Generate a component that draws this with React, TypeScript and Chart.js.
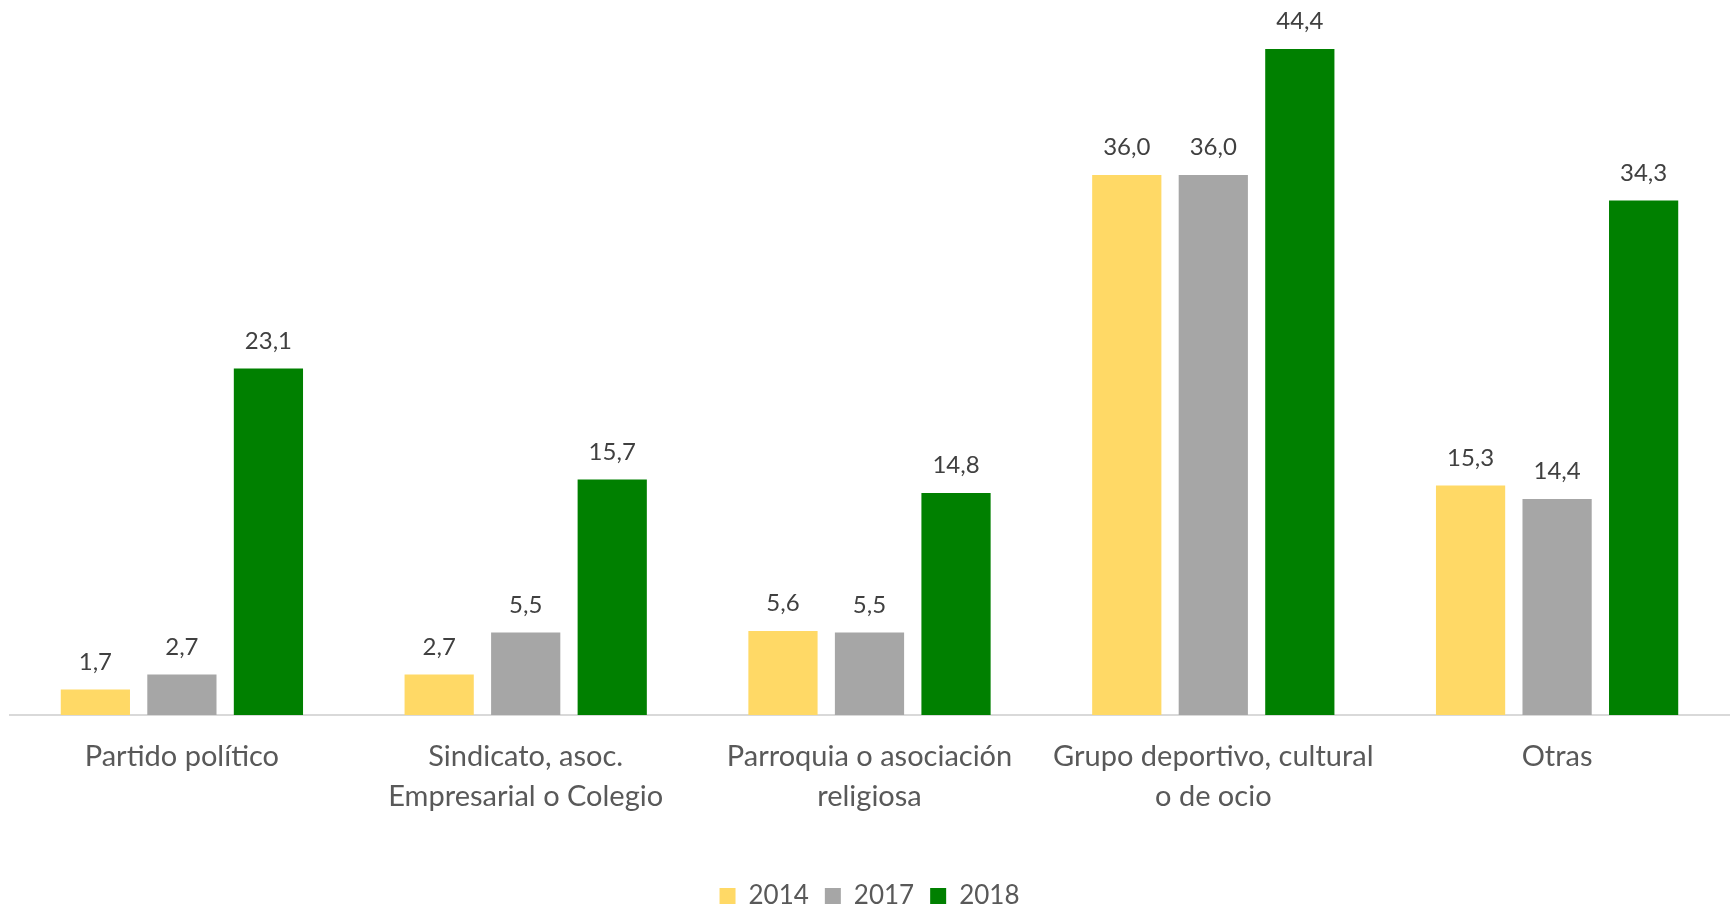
import React, { useEffect, useRef } from "react";
import { Chart, registerables } from "chart.js";

Chart.register(...registerables);

const categories: string[][] = [
  ["Partido político"],
  ["Sindicato, asoc.", "Empresarial o Colegio"],
  ["Parroquia o asociación", "religiosa"],
  ["Grupo deportivo, cultural", "o de ocio"],
  ["Otras"],
];
const seriesNames = ["2014", "2017", "2018"];
const values2014 = [1.7, 2.7, 5.6, 36.0, 15.3];
const values2017 = [2.7, 5.5, 5.5, 36.0, 14.4];
const values2018 = [23.1, 15.7, 14.8, 44.4, 34.3];
const colors = ["#FFD966", "#A6A6A6", "#008000"];

const FONT = "Lato, 'Open Sans', sans-serif";

const labelPlugin = {
  id: "barLabels",
  afterDatasetsDraw(chart: any) {
    const ctx = chart.ctx;
    ctx.save();
    ctx.font = `24px ${FONT}`;
    ctx.fillStyle = "#404040";
    ctx.textAlign = "center";
    ctx.textBaseline = "alphabetic";
    chart.data.datasets.forEach((ds: any, i: number) => {
      const meta = chart.getDatasetMeta(i);
      meta.data.forEach((bar: any, j: number) => {
        const v = ds.data[j] as number;
        ctx.fillText(v.toFixed(1).replace(".", ","), bar.x, bar.y - 20);
      });
    });
    ctx.restore();
  },
};

export default function App() {
  const ref = useRef<HTMLCanvasElement>(null);
  useEffect(() => {
    if (!ref.current) return;
    const chart = new Chart(ref.current, {
      type: "bar",
      data: {
        labels: categories,
        datasets: [values2014, values2017, values2018].map((d, i) => ({
          label: seriesNames[i],
          data: d,
          backgroundColor: colors[i],
          borderWidth: 0,
          categoryPercentage: 0.755,
          barPercentage: 0.8,
        })),
      },
      options: {
        animation: false,
        responsive: true,
        maintainAspectRatio: false,
        layout: { padding: { left: 10, right: 1, top: 0, bottom: -11 } },
        plugins: {
          legend: {
            display: true,
            position: "bottom",
            labels: {
              font: { family: FONT, size: 26 },
              color: "#595959",
              boxWidth: 16,
              boxHeight: 16,
              padding: 16,
            },
          },
          tooltip: { enabled: false },
        },
        scales: {
          x: {
            grid: { display: false, drawTicks: false },
            border: { display: true, color: "#D9D9D9", width: 2 },
            ticks: {
              font: { family: FONT, size: 29, lineHeight: 1.38 },
              color: "#595959",
              padding: 22,
              maxRotation: 0,
              autoSkip: false,
            },
            afterFit: (scale: any) => {
              scale.height = 152;
            },
          },
          y: {
            display: false,
            min: 0,
            max: 47.67,
          },
        },
      },
      plugins: [labelPlugin],
    });
    return () => chart.destroy();
  }, []);
  return (
    <div style={{ position: "fixed", left: 0, top: 0, width: 1730, height: 908, background: "#fff" }}>
      <canvas ref={ref} />
    </div>
  );
}
